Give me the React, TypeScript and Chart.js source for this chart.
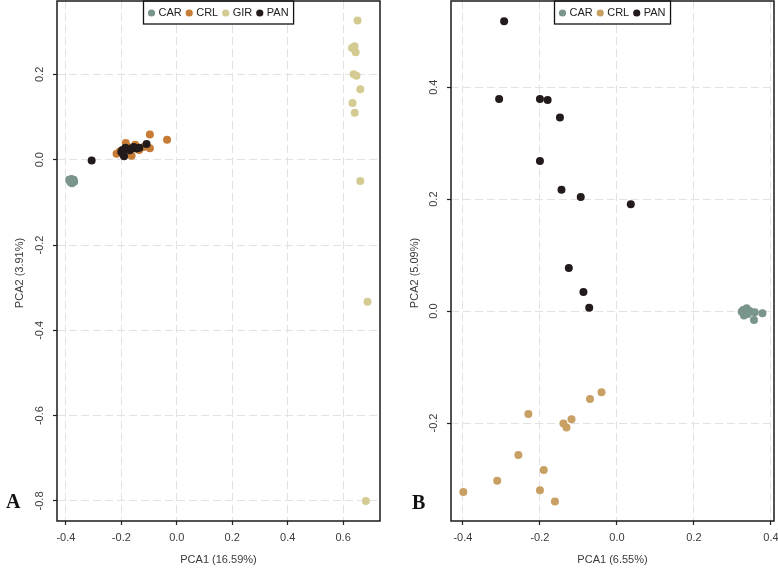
import React, { useEffect, useRef } from "react";
import { Chart, registerables } from "chart.js";

Chart.register(...registerables);

// ---------- Panel A data ----------
const A_CAR: [number, number][] = [
  [-0.385, -0.05], [-0.38, -0.045], [-0.375, -0.05], [-0.372, -0.047],
  [-0.383, -0.053], [-0.378, -0.055], [-0.37, -0.052], [-0.388, -0.047],
];
const A_CRL: [number, number][] = [
  [-0.217, 0.014], [-0.184, 0.039], [-0.163, 0.009], [-0.136, 0.023],
  [-0.097, 0.059], [-0.035, 0.047], [-0.097, 0.027], [-0.205, 0.02],
  [-0.15, 0.035], [-0.175, 0.03], [-0.12, 0.03],
];
const A_GIR: [number, number][] = [
  [0.652, 0.326], [0.632, 0.262], [0.641, 0.266], [0.645, 0.252],
  [0.638, 0.2], [0.648, 0.197], [0.662, 0.165], [0.634, 0.133],
  [0.642, 0.11], [0.662, -0.05], [0.688, -0.333], [0.682, -0.8],
];
const A_PAN: [number, number][] = [
  [-0.307, -0.002], [-0.196, 0.023], [-0.193, 0.012], [-0.2, 0.018],
  [-0.185, 0.028], [-0.17, 0.022], [-0.163, 0.026], [-0.155, 0.03],
  [-0.145, 0.026], [-0.135, 0.028], [-0.109, 0.037], [-0.19, 0.008],
];
const A_X_TICKS = [-0.4, -0.2, 0.0, 0.2, 0.4, 0.6];
const A_Y_TICKS = [-0.8, -0.6, -0.4, -0.2, 0.0, 0.2];

// ---------- Panel B data ----------
const B_CAR: [number, number][] = [
  [0.324, -0.001], [0.328, 0.002], [0.337, 0.005], [0.332, -0.004],
  [0.345, 0.0], [0.358, -0.002], [0.356, -0.016], [0.378, -0.004],
  [0.33, -0.008], [0.34, -0.005],
];
const B_CRL: [number, number][] = [
  [-0.399, -0.323], [-0.311, -0.303], [-0.256, -0.257], [-0.23, -0.184],
  [-0.2, -0.32], [-0.19, -0.284], [-0.161, -0.34], [-0.139, -0.201],
  [-0.131, -0.208], [-0.118, -0.193], [-0.07, -0.157], [-0.04, -0.145],
];
const B_PAN: [number, number][] = [
  [-0.293, 0.518], [-0.306, 0.379], [-0.2, 0.379], [-0.18, 0.377],
  [-0.148, 0.346], [-0.2, 0.268], [-0.144, 0.217], [-0.094, 0.204],
  [0.036, 0.191], [-0.125, 0.077], [-0.087, 0.034], [-0.072, 0.006],
];
const B_X_TICKS = [-0.4, -0.2, 0.0, 0.2, 0.4];
const B_Y_TICKS = [-0.2, 0.0, 0.2, 0.4];

const COL_CAR = "#7a958b";
const COL_CRL_A = "#c77b34";
const COL_GIR = "#d3cb92";
const COL_PAN = "#231b1b";
const COL_CRL_B = "#c9a063";

const FONT = "'Liberation Sans', Arial, sans-serif";
const TEXT = "#3a3a3a";
const SHIFT = 3; // canvas is raised by this many px

type Series = { label: string; color: string; pts: [number, number][] };

const legendBox = {
  id: "legendBox",
  afterDatasetsDraw(chart: any) {
    const ctx = chart.ctx;
    const area = chart.chartArea;
    const items = chart.data.datasets
      .map((d: any) => ({ label: d.label, color: d.backgroundColor, idx: d.legendIndex }))
      .sort((a: any, b: any) => a.idx - b.idx);
    ctx.save();
    ctx.font = `11px ${FONT}`;
    const padL = 8, padR = 5, r = 3.6, toText = 7, toNext = 7.5;
    let w = padL;
    items.forEach((it: any, i: number) => {
      w += toText + ctx.measureText(it.label).width;
      w += i < items.length - 1 ? toNext : padR;
    });
    const h = 23;
    const cx = (area.left + area.right) / 2;
    const x0 = Math.round(cx - w / 2) + 0.5;
    const y0 = area.top;
    ctx.fillStyle = "#fff";
    ctx.fillRect(x0, y0, w, h);
    ctx.strokeStyle = "#111";
    ctx.lineWidth = 1.3;
    ctx.strokeRect(x0, y0, w, h);
    let x = x0 + padL;
    const cy = y0 + h / 2 + 0.5;
    items.forEach((it: any) => {
      ctx.beginPath();
      ctx.arc(x, cy, r, 0, Math.PI * 2);
      ctx.fillStyle = it.color;
      ctx.fill();
      x += toText;
      ctx.fillStyle = "#222";
      ctx.textBaseline = "middle";
      ctx.textAlign = "left";
      ctx.fillText(it.label, x, cy);
      x += ctx.measureText(it.label).width + toNext;
    });
    ctx.restore();
  },
};

const frameBox = {
  id: "frameBox",
  afterDraw(chart: any) {
    const ctx = chart.ctx;
    const a = chart.chartArea;
    ctx.save();
    ctx.strokeStyle = "#1a1a1a";
    ctx.lineWidth = 1.5;
    ctx.strokeRect(a.left, a.top, a.right - a.left, a.bottom - a.top);
    // y-axis title
    const o = chart.options.plugins.yTitle;
    ctx.translate(o.x, (a.top + a.bottom) / 2 + o.dy);
    ctx.rotate(-Math.PI / 2);
    ctx.font = `11px ${FONT}`;
    ctx.fillStyle = TEXT;
    ctx.textAlign = "center";
    ctx.textBaseline = "middle";
    ctx.fillText(o.text, 0, 0);
    ctx.restore();
  },
};

type PanelProps = {
  left: number;
  width: number;
  series: Series[];
  xTicks: number[];
  yTicks: number[];
  xRange: [number, number];
  yRange: [number, number];
  xTitle: string;
  yTitle: string;
  yAxisWidth: number;
  padRight: number;
  yTitleX: number;
};

function Panel(p: PanelProps) {
  const ref = useRef<HTMLCanvasElement>(null);
  useEffect(() => {
    if (!ref.current) return;
    const n = p.series.length;
    const chart = new Chart(ref.current, {
      type: "scatter",
      data: {
        datasets: p.series.map((s, i) => ({
          label: s.label,
          data: s.pts.map(([x, y]) => ({ x, y })),
          backgroundColor: s.color,
          borderWidth: 0,
          pointRadius: 4,
          order: n - i,
          legendIndex: i,
        })) as any,
      },
      options: {
        responsive: false,
        animation: false,
        events: [],
        layout: { padding: { left: 0, right: p.padRight, top: 0, bottom: 0 } },
        plugins: {
          legend: { display: false },
          tooltip: { enabled: false },
          yTitle: { text: p.yTitle, x: p.yTitleX, dy: 12 },
        },
        scales: {
          x: {
            type: "linear",
            min: p.xRange[0],
            max: p.xRange[1],
            afterBuildTicks: (s: any) => { s.ticks = p.xTicks.map((v) => ({ value: v })); },
            afterFit: (s: any) => { s.height = 47; s.paddingLeft = 0; s.paddingRight = 0; },
            grid: { color: "#e2e2e2", lineWidth: 1, tickLength: 4, tickColor: "#222", tickWidth: 1.2, tickBorderDash: [] },
            border: { display: false, dash: [8, 4] },
            ticks: { color: TEXT, font: { family: FONT, size: 11 }, padding: 6, callback: (v: any) => Number(v).toFixed(1) },
            title: { display: true, text: p.xTitle, color: TEXT, font: { family: FONT, size: 11 }, padding: { top: 0, bottom: 1 } },
          },
          y: {
            type: "linear",
            min: p.yRange[0],
            max: p.yRange[1],
            afterBuildTicks: (s: any) => { s.ticks = p.yTicks.map((v) => ({ value: v })); },
            afterFit: (s: any) => { s.width = p.yAxisWidth; s.paddingTop = 0; s.paddingBottom = 0; },
            grid: { color: "#e2e2e2", lineWidth: 1, tickLength: 4, tickColor: "#222", tickWidth: 1.2, tickBorderDash: [] },
            border: { display: false, dash: [8, 4] },
            ticks: {
              color: TEXT, font: { family: FONT, size: 11 }, padding: 4,
              minRotation: 90, maxRotation: 90, crossAlign: "center",
              callback: (v: any) => Number(v).toFixed(1),
            },
            title: { display: false },
          },
        },
      } as any,
      plugins: [legendBox, frameBox],
    });
    return () => chart.destroy();
  }, []);
  return (
    <canvas
      ref={ref}
      width={p.width}
      height={568 + SHIFT}
      style={{ position: "absolute", left: p.left, top: -SHIFT, width: p.width, height: 568 + SHIFT }}
    />
  );
}

export default function App() {
  const letter: React.CSSProperties = {
    position: "absolute",
    fontFamily: "'Liberation Serif', 'Times New Roman', serif",
    fontWeight: "bold",
    fontSize: 20,
    lineHeight: "20px",
    color: "#111",
  };
  return (
    <div style={{ position: "absolute", left: 0, top: 0, width: 778, height: 568, background: "#fff", overflow: "hidden" }}>
      <Panel
        left={0}
        width={390}
        series={[
          { label: "CAR", color: COL_CAR, pts: A_CAR },
          { label: "CRL", color: COL_CRL_A, pts: A_CRL },
          { label: "GIR", color: COL_GIR, pts: A_GIR },
          { label: "PAN", color: COL_PAN, pts: A_PAN },
        ]}
        xTicks={A_X_TICKS}
        yTicks={A_Y_TICKS}
        xRange={[-0.432, 0.733]}
        yRange={[-0.847, 0.372]}
        xTitle="PCA1 (16.59%)"
        yTitle="PCA2 (3.91%)"
        yAxisWidth={57}
        padRight={10}
        yTitleX={20}
      />
      <Panel
        left={390}
        width={388}
        series={[
          { label: "CAR", color: COL_CAR, pts: B_CAR },
          { label: "CRL", color: COL_CRL_B, pts: B_CRL },
          { label: "PAN", color: COL_PAN, pts: B_PAN },
        ]}
        xTicks={B_X_TICKS}
        yTicks={B_Y_TICKS}
        xRange={[-0.431, 0.408]}
        yRange={[-0.375, 0.554]}
        xTitle="PCA1 (6.55%)"
        yTitle="PCA2 (5.09%)"
        yAxisWidth={61}
        padRight={4}
        yTitleX={25}
      />
      <div style={{ ...letter, left: 6, top: 491 }}>A</div>
      <div style={{ ...letter, left: 412, top: 492 }}>B</div>
    </div>
  );
}
